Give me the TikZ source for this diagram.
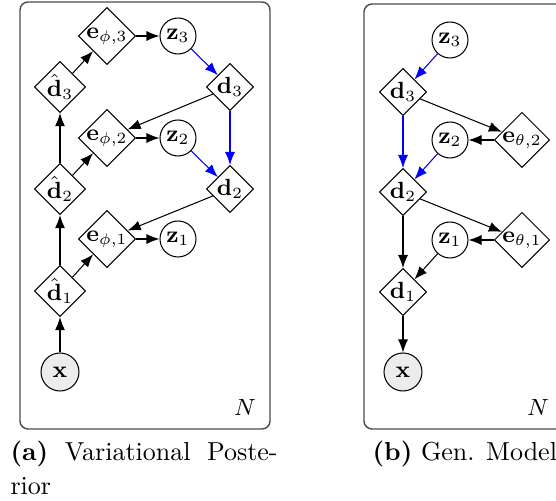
\documentclass[tikz,border=0pt]{standalone}
\usetikzlibrary{shapes.geometric,arrows.meta}
\newcommand{\pxu}{0.3846pt}
\begin{document}
\begin{tikzpicture}[x=0.3846pt,y=-0.3846pt,
  every node/.style={font=\fontsize{9}{10.8}\selectfont},
  dnode/.style={draw,diamond,aspect=1,inner sep=0pt,minimum size=47*\pxu,line width=0.4pt},
  enode/.style={draw,diamond,aspect=1,inner sep=0pt,minimum size=54*\pxu,line width=0.4pt},
  znode/.style={draw,circle,inner sep=0pt,minimum size=36*\pxu,line width=0.4pt},
  xnode/.style={draw,circle,inner sep=0pt,minimum size=38*\pxu,fill=gray!15,line width=0.4pt},
  plate/.style={draw=black!70,line width=0.55pt,rounded corners=8*\pxu},
  arr/.style={-{Latex[length=13*\pxu,width=10*\pxu]},line width=0.4pt},
  barr/.style={arr,blue},
  captext/.style={font=\fontsize{10}{12}\selectfont,anchor=base west,inner sep=0pt}
]
\clip (0,0) rectangle (556,501);
% plates
\draw[plate] (20,2) rectangle (270,429);
\draw[plate] (364,4) rectangle (640,429);
% left panel
\node[xnode] (xa) at (60,372) {$\mathbf{x}$};
\node[dnode] (dh1) at (60,291) {$\hat{\mathbf{d}}_1$};
\node[dnode] (dh2) at (60,189) {$\hat{\mathbf{d}}_2$};
\node[dnode] (dh3) at (60,87) {$\hat{\mathbf{d}}_3$};
\node[enode] (e1) at (107,239) {$\mathbf{e}_{\phi,1}$};
\node[enode] (e2) at (107,138) {$\mathbf{e}_{\phi,2}$};
\node[enode] (e3) at (107,36) {$\mathbf{e}_{\phi,3}$};
\node[znode] (z1) at (178,239) {$\mathbf{z}_1$};
\node[znode] (z2) at (178,138) {$\mathbf{z}_2$};
\node[znode] (z3) at (178,36) {$\mathbf{z}_3$};
\node[dnode] (d3) at (230,87) {$\mathbf{d}_3$};
\node[dnode] (d2) at (230,189) {$\mathbf{d}_2$};
\node (Na) at (245,408) {$N$};
\draw[arr] (xa) -- (dh1);
\draw[arr] (dh1) -- (dh2);
\draw[arr] (dh2) -- (dh3);
\draw[arr] (dh1) -- (e1);
\draw[arr] (dh2) -- (e2);
\draw[arr] (dh3) -- (e3);
\draw[arr] (e1) -- (z1);
\draw[arr] (e2) -- (z2);
\draw[arr] (e3) -- (z3);
\draw[barr] (z3) -- (d3);
\draw[barr] (z2) -- (d2);
\draw[barr] (d3) -- (d2);
\draw[arr] (d3) -- (e2);
\draw[arr] (d2) -- (e1);
% right panel
\node[znode] (gz3) at (450,40) {$\mathbf{z}_3$};
\node[dnode] (gd3) at (403,92) {$\mathbf{d}_3$};
\node[znode] (gz2) at (450,140) {$\mathbf{z}_2$};
\node[enode] (ge2) at (522,140) {$\mathbf{e}_{\theta,2}$};
\node[dnode] (gd2) at (403,192) {$\mathbf{d}_2$};
\node[znode] (gz1) at (450,240) {$\mathbf{z}_1$};
\node[enode] (ge1) at (522,240) {$\mathbf{e}_{\theta,1}$};
\node[dnode] (gd1) at (403,292) {$\mathbf{d}_1$};
\node[xnode] (gx) at (403,372) {$\mathbf{x}$};
\node (Nb) at (538,408) {$N$};
\draw[barr] (gz3) -- (gd3);
\draw[arr] (gd3) -- (ge2);
\draw[arr] (ge2) -- (gz2);
\draw[barr] (gz2) -- (gd2);
\draw[barr] (gd3) -- (gd2);
\draw[arr] (gd2) -- (ge1);
\draw[arr] (ge1) -- (gz1);
\draw[arr] (gz1) -- (gd1);
\draw[arr] (gd2) -- (gd1);
\draw[arr] (gd1) -- (gx);
% captions
\node[captext] (capa1) at (10,461) {\makebox[102.7pt][s]{\textbf{(a)} Variational Poste-}};
\node[captext] (capa2) at (10,495) {rior};
\node[captext] (capb) at (372,461) {\textbf{(b)} Gen. Model};
\end{tikzpicture}
\end{document}
